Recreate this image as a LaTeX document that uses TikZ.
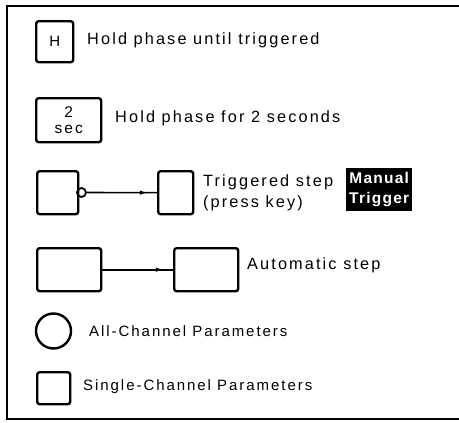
\documentclass[tikz,border=0pt]{standalone}
\usepackage{fontspec}
\setmainfont{Liberation Sans}[LetterSpace=13]
\newfontfamily\boldlab{Liberation Sans Bold}[LetterSpace=8]
\usetikzlibrary{arrows.meta,decorations.markings}
\begin{document}
\begin{tikzpicture}[x=1pt,y=-1pt,
  frame/.style={line width=1.6pt},
  box/.style={draw,line width=2.4pt,rounded corners=2.5pt,inner sep=0pt,anchor=north west},
  lab/.style={anchor=west,inner sep=0pt,font=\fontsize{16.3}{19}\selectfont},
  small/.style={font=\fontsize{15}{17}\selectfont},
  conn/.style={line width=1.6pt,postaction={decorate},
    decoration={markings,mark=at position 0.87 with {\arrow{Latex[length=8pt,width=4.5pt]}}}},
  mt/.style={fill=black,text=white,inner sep=0pt,anchor=north west,align=center,
    font=\boldlab\fontsize{15.5}{20}\selectfont}]
\useasboundingbox (0,0) rectangle (459,423);
% frame (open on the right)
\coordinate (ftr) at (459,6);
\coordinate (ftl) at (7,6);
\coordinate (fbl) at (7,419);
\coordinate (fbr) at (459,419);
\draw[frame] (ftr) -- (ftl) -- (fbl) -- (fbr);
% H
\node[box,minimum width=37pt,minimum height=41pt,font=\fontsize{15}{17}\selectfont] (hbox) at (35,20) {H};
\node[lab] (htext) at (87,40) {Hold phase until triggered};
% 2 sec
\node[box,minimum width=65pt,minimum height=44pt,align=center,font=\fontsize{15.5}{16}\selectfont] (sbox) at (35,97) {2\\sec};
\node[lab] (stext) at (115,118) {Hold phase for 2 seconds};
% triggered step
\node[box,minimum width=41pt,minimum height=43pt] (tl) at (36,170) {};
\node[draw,circle,line width=1.8pt,minimum size=9pt,inner sep=0pt] (tc) at (81.5,192.5) {};
\node[box,minimum width=35pt,minimum height=43pt] (tr) at (157,170) {};
\draw[conn] (tc.east) -- (tr.west);
\node[lab] (ttext1) at (203,182) {Triggered step};
\node[lab] (ttext2) at (203,203) {(press key)};
\node[mt,minimum width=66pt,minimum height=43pt] (mtrig) at (346,168) {Manual\\Trigger};
% automatic step
\node[box,minimum width=64pt,minimum height=43pt] (al) at (36,247) {};
\node[box,minimum width=64pt,minimum height=43pt] (ar) at (173,247) {};
\draw[conn] (al.east) -- (ar.west);
\node[lab] (atext) at (247,265) {Automatic step};
% all-channel
\node[draw,circle,line width=2.4pt,minimum size=35pt,inner sep=0pt] (cc) at (53.5,331) {};
\node[lab,small] (ctext) at (89,331) {All-Channel Parameters};
% single-channel
\node[box,minimum width=33pt,minimum height=32pt] (sq) at (36,371) {};
\node[lab,small] (qtext) at (83,387) {Single-Channel Parameters};
\end{tikzpicture}
\end{document}
